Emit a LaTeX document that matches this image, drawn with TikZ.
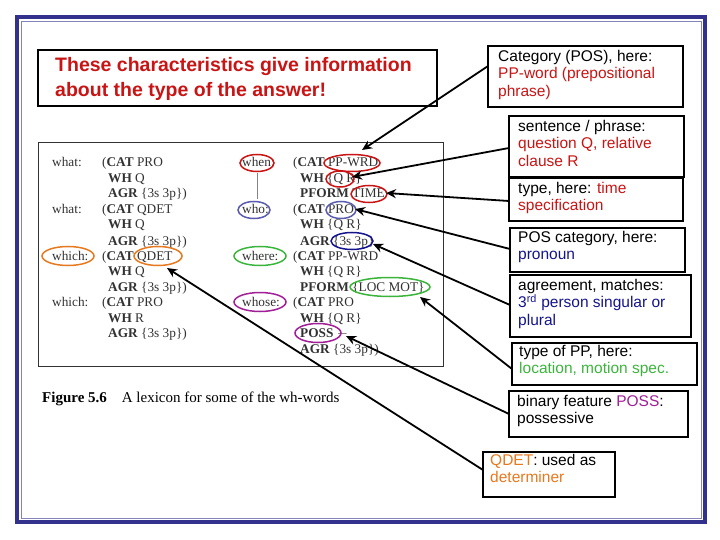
\documentclass[tikz,border=0pt]{standalone}
\usepackage{fontspec}
\setmainfont{Liberation Sans}
\newfontfamily\lexfont{Liberation Serif}
\usetikzlibrary{arrows.meta}
\definecolor{frameblue}{RGB}{50,50,140}
\definecolor{tred}{RGB}{200,20,20}
\definecolor{tblue}{RGB}{20,20,140}
\definecolor{tgreen}{RGB}{60,180,60}
\definecolor{tpurple}{RGB}{160,30,150}
\definecolor{torange}{RGB}{230,120,30}
\definecolor{lexgray}{RGB}{50,50,50}
\tikzset{
 info/.style={anchor=north west,align=left,inner sep=0pt,font=\fontsize{15.5}{17.5}\selectfont},
 lex/.style={anchor=base west,inner sep=0pt,font=\lexfont\fontsize{13.3}{14}\selectfont,text=lexgray},
 mark ell/.style={draw=#1,line width=1.5pt},
 pointer/.style={-{Stealth[length=10pt,width=9pt]},line width=1.8pt}
}
\begin{document}
\begin{tikzpicture}[x=1pt,y=-1pt]
\useasboundingbox (0,0) rectangle (720,540);
\draw[frameblue,line width=4pt] (17,17) rectangle (705,522);
\draw[frameblue!60,line width=0.6pt] (21,21) rectangle (701,518);
% top left box
\draw[line width=1.3pt] (38,50) rectangle (437,106);
\node[anchor=north west,align=left,text=tred,font=\bfseries\fontsize{19.5}{25}\selectfont,inner sep=0pt] (head) at (55,57) {These characteristics give information\\about the type of the answer!};
% info boxes
\draw[line width=1.3pt] (488,46) rectangle (683,107); \coordinate (b1) at (488,66);
\node[info] (t1) at (498,50) {Category (POS), here:\\\textcolor{tred}{PP-word (prepositional}\\\textcolor{tred}{phrase)}};
\draw[line width=1.3pt] (509,116) rectangle (684,177); \coordinate (b2) at (509,148);
\node[info] (t2) at (518,120) {sentence / phrase:\\\textcolor{tred}{question Q, relative}\\\textcolor{tred}{clause R}};
\draw[line width=1.3pt] (509,178) rectangle (683,221); \coordinate (b3) at (509,201);
\node[info] (t3) at (518,182) {type, here: \textcolor{tred}{time}\\\textcolor{tred}{specification}};
\draw[line width=1.3pt] (510,228) rectangle (685,272); \coordinate (b4) at (510,249);
\node[info] (t4) at (518,231) {POS category, here:\\\textcolor{tblue}{pronoun}};
\draw[line width=1.3pt] (510,275) rectangle (691,337); \coordinate (b5) at (510,305);
\node[info] (t5) at (518,279) {agreement, matches:\\\textcolor{tblue}{3\textsuperscript{rd} person singular or}\\\textcolor{tblue}{plural}};
\draw[line width=1.3pt] (512,343) rectangle (697,385); \coordinate (b6) at (512,369);
\node[info] (t6) at (519,345) {type of PP, here:\\\textcolor{tgreen}{location, motion spec.}};
\draw[line width=1.3pt] (509,391) rectangle (688,437); \coordinate (b7) at (509,414);
\node[info] (t7) at (517,395) {binary feature \textcolor{tpurple}{POSS}:\\possessive};
\draw[line width=1.3pt] (483,452) rectangle (615,497); \coordinate (b8) at (483,470);
\node[info] (t8) at (490,454) {\textcolor{torange}{QDET}: used as\\\textcolor{torange}{determiner}};
% figure
\draw[line width=0.8pt,lexgray] (38,142) rectangle (443,366);
\node[lex] (l1) at (52,167) {what:};
\node[lex] (l2) at (102,167) {(\textbf{CAT} PRO};
\node[lex] (l3) at (108,183) {\textbf{WH} Q};
\node[lex] (l4) at (108,198) {\textbf{AGR} \{3s 3p\})};
\node[lex] (l5) at (52,214) {what:};
\node[lex] (l6) at (102,214) {(\textbf{CAT} QDET};
\node[lex] (l7) at (108,229) {\textbf{WH} Q};
\node[lex] (l8) at (108,245) {\textbf{AGR} \{3s 3p\})};
\node[lex] (l9) at (52,260) {which:};
\node[lex] (l10) at (102,260) {(\textbf{CAT} QDET};
\node[lex] (l11) at (108,275) {\textbf{WH} Q};
\node[lex] (l12) at (108,291) {\textbf{AGR} \{3s 3p\})};
\node[lex] (l13) at (52,306) {which:};
\node[lex] (l14) at (102,306) {(\textbf{CAT} PRO};
\node[lex] (l15) at (108,322) {\textbf{WH} R};
\node[lex] (l16) at (108,337) {\textbf{AGR} \{3s 3p\})};
\node[lex] (r1) at (242,167) {when:};
\node[lex] (r2) at (293,167) {(\textbf{CAT} PP-WRD};
\node[lex] (r3) at (300,183) {\textbf{WH} \{Q R\}};
\node[lex] (r4) at (300,198) {\textbf{PFORM} TIME};
\node[lex] (r5) at (242,214) {who:};
\node[lex] (r6) at (293,214) {(\textbf{CAT} PRO};
\node[lex] (r7) at (300,229) {\textbf{WH} \{Q R\}};
\node[lex] (r8) at (300,245) {\textbf{AGR} \{3s 3p\}};
\node[lex] (r9) at (242,260) {where:};
\node[lex] (r10) at (293,260) {(\textbf{CAT} PP-WRD};
\node[lex] (r11) at (300,275) {\textbf{WH} \{Q R\}};
\node[lex] (r12) at (300,291) {\textbf{PFORM} \{LOC MOT\}};
\node[lex] (r13) at (242,306) {whose:};
\node[lex] (r14) at (293,306) {(\textbf{CAT} PRO};
\node[lex] (r15) at (300,322) {\textbf{WH} \{Q R\}};
\node[lex] (r16) at (300,337) {\textbf{POSS} $-$};
\node[lex] (r17) at (300,353) {\textbf{AGR} \{3s 3p\})};
\draw[lexgray!60,line width=0.5pt] (257,173) -- (257,199);
\node[lex,text=black,font=\lexfont\fontsize{15}{16}\selectfont] (cap) at (42,402) {\textbf{Figure 5.6}\quad A lexicon for some of the wh-words};
% ellipses
\draw[mark ell=tred] (257,163) ellipse (17 and 8.5);
\draw[mark ell=tred] (352,163) ellipse (28 and 8.5);
\node[coordinate] (e1) at (362,150) {};
\draw[mark ell=tred] (340,179) ellipse (14 and 8);
\node[coordinate] (e2) at (352,177) {};
\draw[mark ell=tred] (369,194) ellipse (18 and 8.5);
\node[coordinate] (e3) at (386,193) {};
\draw[mark ell=tblue!70] (254,210) ellipse (16 and 8.5);
\draw[mark ell=tblue!70] (341,210) ellipse (15 and 8.5);
\node[coordinate] (e4) at (355,209) {};
\draw[mark ell=tblue] (352,241) ellipse (21 and 8.5);
\node[coordinate] (e5) at (373,244) {};
\draw[mark ell=torange] (68,256) ellipse (26 and 9.5);
\draw[mark ell=torange] (158,256) ellipse (24 and 9.5);
\node[coordinate] (e8) at (167,268) {};
\draw[mark ell=tgreen] (260,256) ellipse (26 and 9.5);
\draw[mark ell=tgreen] (390,287) ellipse (40 and 9.5);
\node[coordinate] (e6) at (420,297) {};
\draw[mark ell=tpurple] (260,302) ellipse (26 and 9.5);
\draw[mark ell=tpurple] (318,333) ellipse (23 and 9.5);
\node[coordinate] (e7) at (346,336) {};
% arrows
\draw[pointer] (b1) -- (e1);
\draw[pointer] (b2) -- (e2);
\draw[pointer] (b3) -- (e3);
\draw[pointer] (b4) -- (e4);
\draw[pointer] (b5) -- (e5);
\draw[pointer] (b6) -- (e6);
\draw[pointer] (b7) -- (e7);
\draw[pointer] (b8) -- (e8);
\end{tikzpicture}
\end{document}
